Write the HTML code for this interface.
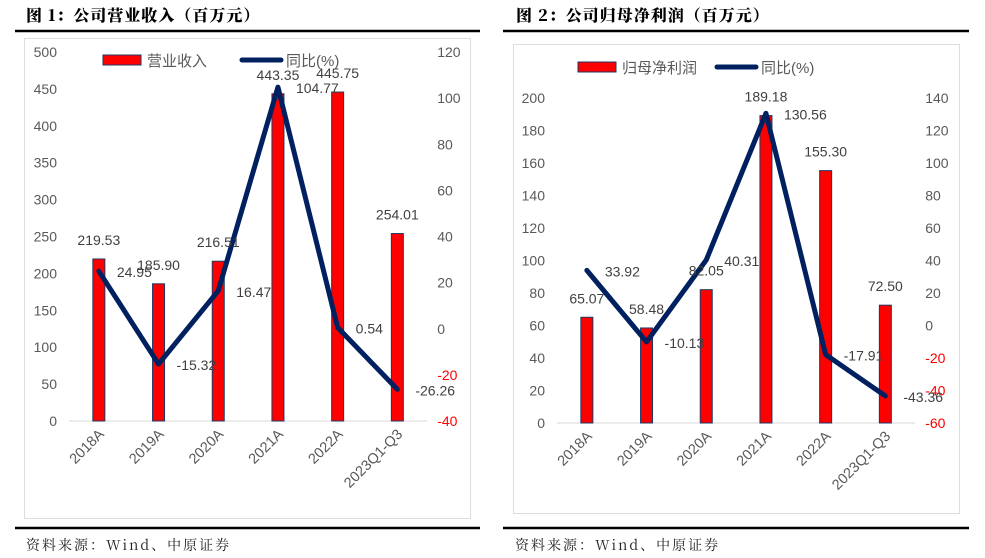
<!DOCTYPE html>
<html><head><meta charset="utf-8">
<style>
body{margin:0;width:985px;height:558px;background:#fff;overflow:hidden;font-family:"Liberation Sans","Noto Sans CJK SC",sans-serif;}
svg{position:absolute;left:0;top:0}
</style></head>
<body>
<svg id="s" width="985" height="558">
<g font-family="'Noto Serif CJK SC','Noto Sans CJK SC',serif" font-weight="900" font-size="16" fill="#000" letter-spacing="1">
<text x="26" y="21">图 1：公司营业收入（百万元）</text>
<text x="516" y="21">图 2：公司归母净利润（百万元）</text>
</g>
<line x1="15" y1="31" x2="480" y2="31" stroke="#000" stroke-width="2.5"/>
<line x1="503" y1="31" x2="969" y2="31" stroke="#000" stroke-width="2.5"/>
<line x1="15" y1="528" x2="480" y2="528" stroke="#000" stroke-width="2.5"/>
<line x1="503" y1="528" x2="969" y2="528" stroke="#000" stroke-width="2.5"/>
<g font-family="'Noto Serif CJK SC','Noto Sans CJK SC',serif" font-size="14" fill="#222" letter-spacing="2">
<text x="26" y="550">资料来源：Wind、中原证券</text>
<text x="515" y="550">资料来源：Wind、中原证券</text>
</g>
<rect x="24.5" y="38.5" width="446" height="480" fill="none" stroke="#ddd"/>
<rect x="513.5" y="44.5" width="446" height="469" fill="none" stroke="#ddd"/>
</svg>
<script>
const categories=["2018A","2019A","2020A","2021A","2022A","2023Q1-Q3"];
const revenue=[219.53,185.90,216.51,443.35,445.75,254.01];
const revenueYoY=[24.95,-15.32,16.47,104.77,0.54,-26.26];
const revTicksL=[0,50,100,150,200,250,300,350,400,450,500];
const revTicksR=[-40,-20,0,20,40,60,80,100,120];
const profit=[65.07,58.48,82.05,189.18,155.30,72.50];
const profitYoY=[33.92,-10.13,40.31,130.56,-17.91,-43.36];
const profTicksL=[0,20,40,60,80,100,120,140,160,180,200];
const profTicksR=[-60,-40,-20,0,20,40,60,80,100,120,140];

const NS="http://www.w3.org/2000/svg";
const svg=document.getElementById('s');
function mk(tag,attrs,parent,text){const e=document.createElementNS(NS,tag);for(const k in attrs)e.setAttribute(k,attrs[k]);if(text!==undefined)e.textContent=text;(parent||svg).appendChild(e);return e;}

function draw(o){
  const g=mk('g',{});
  
  
  const yL=v=>o.yBot-(v-o.lMin)/(o.lMax-o.lMin)*(o.yBot-o.yTop);
  const yR=v=>o.yBot-(v-o.rMin)/(o.rMax-o.rMin)*(o.yBot-o.yTop);
  const xC=i=>o.x0+o.step*(i+0.5);
  o.tl.forEach(t=>{const e=mk('text',{x:o.x0-12,y:yL(t)+5,'text-anchor':'end','font-size':14,fill:'#595959'},g,t);
    });
  o.tr.forEach(t=>{const e=mk('text',{x:o.x0+o.step*6+10,y:yR(t)+5,'font-size':14,fill:t<0?'#ff0000':'#595959'},g,t);
    });
  const ax=mk('line',{x1:o.x0,x2:o.x0+o.step*6,y1:o.yBot,y2:o.yBot,stroke:'#d9d9d9','stroke-width':1},g);
  
  categories.forEach((c,i)=>{
    const b=mk('rect',{x:xC(i)-6,y:yL(o.bars[i]),width:12,height:o.yBot-yL(o.bars[i]),fill:'#ff0000',stroke:'#1f3864','stroke-width':1},g);
    
    const tx=xC(i)+6,ty=o.yBot+14;
    const l=mk('text',{x:tx,y:ty,'font-size':14.5,fill:'#595959','text-anchor':'end',transform:`rotate(-45 ${tx} ${ty})`},g,c);
    
  });
  const pts=o.line.map((v,i)=>xC(i)+','+yR(v)).join(' ');
  const pl=mk('polyline',{points:pts,fill:'none',stroke:'#002060','stroke-width':5,'stroke-linejoin':'round','stroke-linecap':'round'},g);
  
  categories.forEach((c,i)=>{
    const t=mk('text',{x:xC(i),y:yL(o.bars[i])-14,'text-anchor':'middle','font-size':14,fill:'#404040'},g,o.bars[i].toFixed(2));
    
    const u=mk('text',{x:xC(i)+18,y:yR(o.line[i])+6,'font-size':14,fill:'#404040'},g,o.line[i].toFixed(2));
    
  });
  const lg=mk('g',{},g);
  
  const r=mk('rect',{x:o.lgX,y:o.lgY-5,width:38,height:10,fill:'#ff0000',stroke:'#1f3864'},lg);
  
  const t1=mk('text',{x:o.lgX+44,y:o.lgY+6,'font-size':15,fill:'#595959'},lg,o.barName);
  
  const ll=mk('line',{x1:o.lgX+139,x2:o.lgX+178,y1:o.lgY,y2:o.lgY,stroke:'#002060','stroke-width':5,'stroke-linecap':'round'},lg);
  
  const t2=mk('text',{x:o.lgX+183,y:o.lgY+6,'font-size':15,fill:'#595959'},lg,'同比(%)');
  
}
draw({id:'revenue-chart',x0:69,step:59.7,yTop:52,yBot:421,lMin:0,lMax:500,rMin:-40,rMax:120,tl:revTicksL,tr:revTicksR,bars:revenue,line:revenueYoY,lgX:103,lgY:60,barName:'营业收入'});
draw({id:'profit-chart',x0:557,step:59.7,yTop:98,yBot:423,lMin:0,lMax:200,rMin:-60,rMax:140,tl:profTicksL,tr:profTicksR,bars:profit,line:profitYoY,lgX:578,lgY:67,barName:'归母净利润'});
</script>
</body></html>
